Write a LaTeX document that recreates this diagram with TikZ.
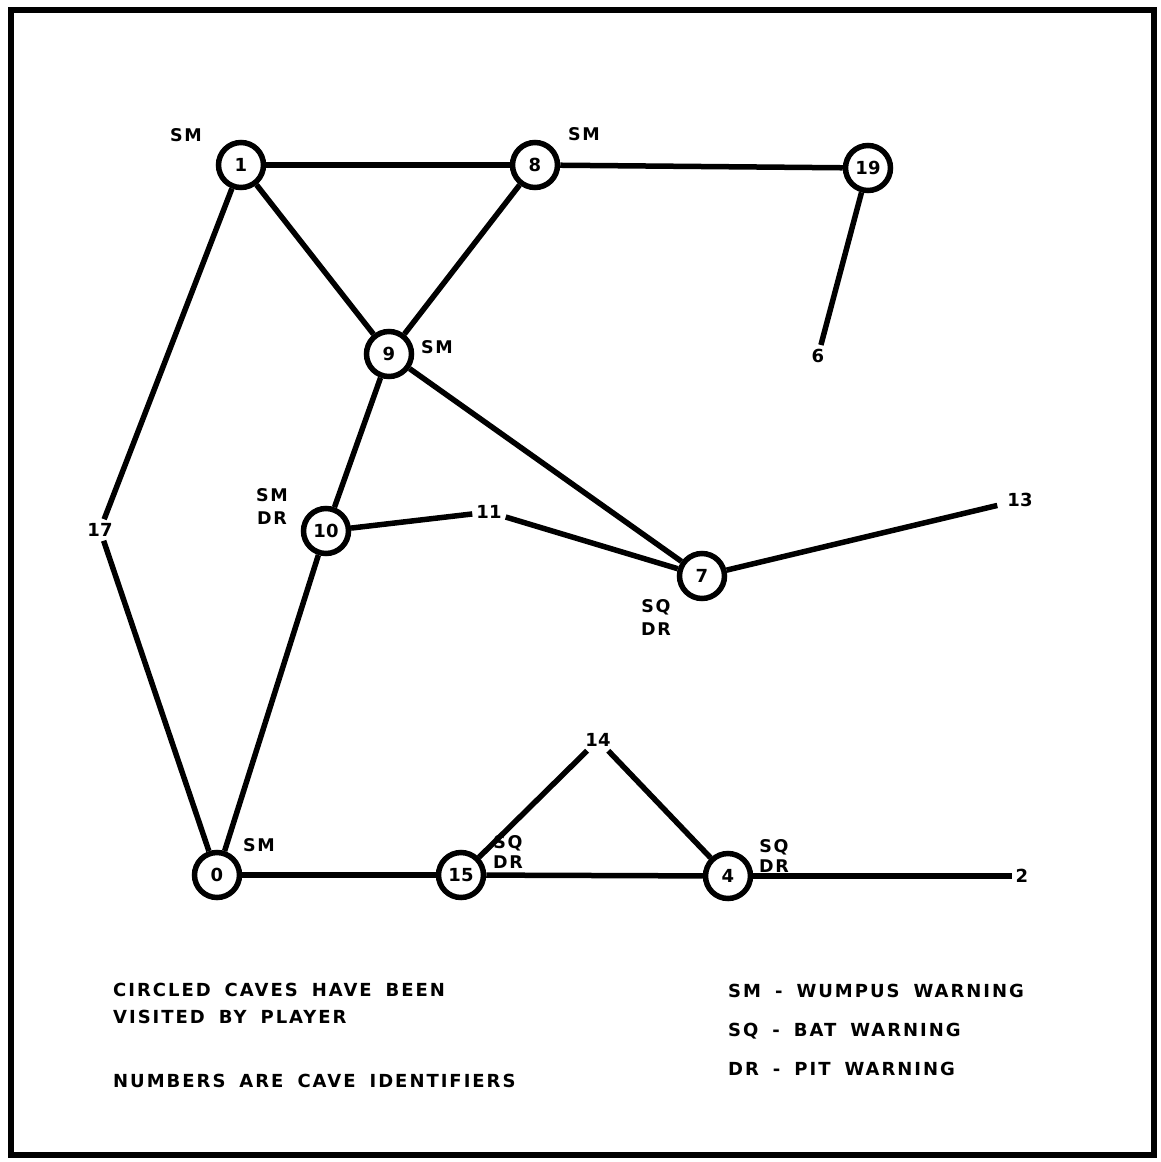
\documentclass[tikz,border=0pt]{standalone}
\usepackage{fontspec}
\setmainfont{DejaVu Sans}
\newfontfamily\legfam[LetterSpace=11]{DejaVu Sans}
\newfontfamily\warnfam[LetterSpace=10]{DejaVu Sans}
\newcommand\numfont{\fontsize{18}{20}\selectfont\bfseries}
\newcommand\warnfont{\warnfam\fontsize{17.5}{23}\selectfont\bfseries}
\newcommand\legfont{\legfam\fontsize{18}{20}\selectfont\bfseries\spaceskip=14pt\relax}
\begin{document}
\begin{tikzpicture}[x=1pt,y=-1pt,
  cave/.style={circle,draw,line width=5.5pt,minimum size=45pt,inner sep=0pt,font=\numfont},
  free/.style={inner sep=4pt,font=\numfont},
  warn/.style={font=\warnfont,inner sep=0pt,align=center},
  edge/.style={line width=5.5pt},
  legend/.style={font=\legfont,anchor=west,inner sep=0pt}]
\useasboundingbox (0,0) rectangle (1160,1162);
\draw[line width=6.5pt] (11,10) rectangle (1154,1155);
% circled caves
\node[cave] (c1) at (241,165) {1};
\node[cave] (c8) at (535,165) {8};
\node[cave] (c19) at (868,168) {19};
\node[cave] (c9) at (389,354) {9};
\node[cave] (c10) at (326,531) {10};
\node[cave] (c7) at (702,576) {7};
\node[cave] (c0) at (217,875) {0};
\node[cave] (c15) at (461,875) {15};
\node[cave] (c4) at (728,876) {4};
% uncircled caves
\node[free] (c17) at (100,530) {17};
\node[free] (c11) at (489,512) {11};
\node[free,inner sep=10pt] (c13) at (1020,500) {13};
\node[free] (c6) at (818,356) {6};
\node[free] (c14) at (598,740) {14};
\node[free] (c2) at (1022,876) {2};
% edges
\draw[edge] (c1) -- (c8);
\draw[edge] (c8) -- (c19);
\draw[edge] (c19) -- (c6);
\draw[edge] (c1) -- (c9);
\draw[edge] (c8) -- (c9);
\draw[edge] (c1) -- (c17);
\draw[edge] (c17) -- (c0);
\draw[edge] (c9) -- (c10);
\draw[edge] (c9) -- (c7);
\draw[edge] (c10) -- (c11);
\draw[edge] (c11) -- (c7);
\draw[edge] (c10) -- (c0);
\draw[edge] (c7) -- (c13);
\draw[edge] (c0) -- (c15);
\draw[edge] (c15) -- (c4);
\draw[edge] (c4) -- (c2);
\draw[edge] (c15) -- (c14);
\draw[edge] (c14) -- (c4);
% warnings
\node[warn] (w1) at (186,135) {SM};
\node[warn] (w8) at (584,134) {SM};
\node[warn] (w9) at (437,347) {SM};
\node[warn] (w10) at (272,506) {SM\\DR};
\node[warn] (w7) at (656,617) {SQ\\DR};
\node[warn] (w0) at (259,845) {SM};
\node[warn] (w15) at (508,852) {SQ\\[-3pt]DR};
\node[warn] (w4) at (774,856) {SQ\\[-3pt]DR};
% legend
\node[legend] (l1) at (113,990) {CIRCLED CAVES HAVE BEEN};
\node[legend] (l2) at (113,1017) {VISITED BY PLAYER};
\node[legend] (l3) at (113,1081) {NUMBERS ARE CAVE IDENTIFIERS};
\node[legend] (r1) at (728,991) {SM - WUMPUS WARNING};
\node[legend] (r2) at (728,1031) {SQ - BAT WARNING};
\node[legend] (r3) at (728,1069) {DR - PIT WARNING};
\end{tikzpicture}
\end{document}
